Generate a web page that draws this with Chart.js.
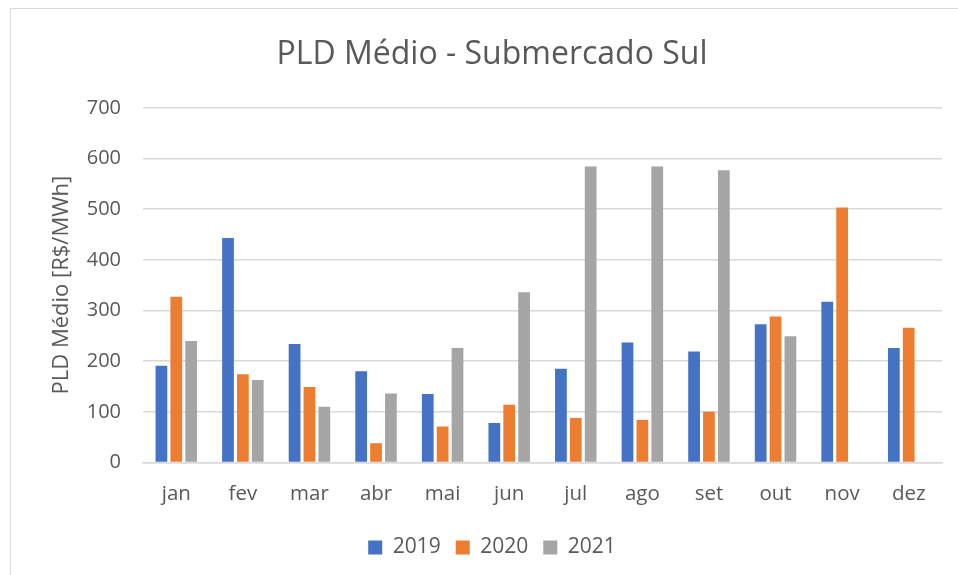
<!DOCTYPE html>
<html>
<head>
<meta charset="utf-8">
<script src="https://cdn.jsdelivr.net/npm/chart.js@4/dist/chart.umd.min.js"></script>
<style>
  html, body { margin: 0; padding: 0; background: #fff; }
  body { width: 958px; height: 575px; position: relative; overflow: hidden; }
  #frame { position: absolute; left: 10px; top: 8px; width: 980px; height: 600px; border: 1px solid #d9d9d9; box-sizing: border-box; }
  #wrap { position: absolute; left: 0; top: 0; width: 958px; height: 575px; }
</style>
</head>
<body>
<div id="frame"></div>
<div id="wrap"><canvas id="c" width="958" height="575"></canvas></div>
<script>
const categories = ["jan", "fev", "mar", "abr", "mai", "jun", "jul", "ago", "set", "out", "nov", "dez"];
const seriesNames = ["2019", "2020", "2021"];
const values2019 = [191, 443, 234, 180, 135, 78, 185, 237, 219, 273, 317, 226];
const values2020 = [327, 174, 149, 38, 71, 114, 88, 84, 100, 288, 503, 266];
const values2021 = [240, 163, 110, 136, 226, 336, 584, 584, 577, 249, null, null];
const yTicks = [0, 100, 200, 300, 400, 500, 600, 700];
const colors = ["#4472C4", "#ED7D31", "#A5A5A5"];

const FONT = "'Open Sans', Lato, sans-serif";
const TXT = "#595959";

new Chart(document.getElementById("c"), {
  type: "bar",
  data: {
    labels: categories,
    datasets: [values2019, values2020, values2021].map((d, i) => ({
      label: seriesNames[i],
      data: d,
      backgroundColor: colors[i],
      borderWidth: 0,
      categoryPercentage: 0.67,
      barPercentage: 0.79
    }))
  },
  options: {
    responsive: false,
    animation: false,
    layout: { padding: { left: 42, right: 16, top: 18, bottom: 7 } },
    plugins: {
      title: {
        display: true,
        text: "PLD Médio - Submercado Sul",
        color: TXT,
        font: { family: FONT, size: 32, weight: "normal" },
        padding: { top: 18, bottom: 33.4 }
      },
      legend: {
        position: "bottom",
        labels: {
          color: TXT,
          font: { family: FONT, size: 21 },
          boxWidth: 14,
          boxHeight: 14,
          padding: 15
        }
      },
      tooltip: { enabled: false }
    },
    scales: {
      x: {
        grid: { display: false, drawTicks: false },
        border: { display: true, color: "#d9d9d9", width: 1.5 },
        ticks: { color: TXT, font: { family: FONT, size: 20.5 }, padding: 19.5 },
        afterFit: (s) => { s.height = 59.5; }
      },
      y: {
        min: 0,
        max: 700,
        afterBuildTicks: (s) => { s.ticks = yTicks.map(v => ({ value: v })); },
        grid: { color: "#d9d9d9", lineWidth: 1.5, drawTicks: false },
        border: { display: false },
        ticks: { color: TXT, font: { family: FONT, size: 20 }, padding: 22 },
        title: {
          display: true,
          text: "PLD Médio [R$/MWh]",
          color: TXT,
          font: { family: FONT, size: 22 },
          padding: { top: 7, bottom: 0 }
        },
        afterFit: (s) => { s.width = 101; }
      }
    }
  }
});
</script>
</body>
</html>
